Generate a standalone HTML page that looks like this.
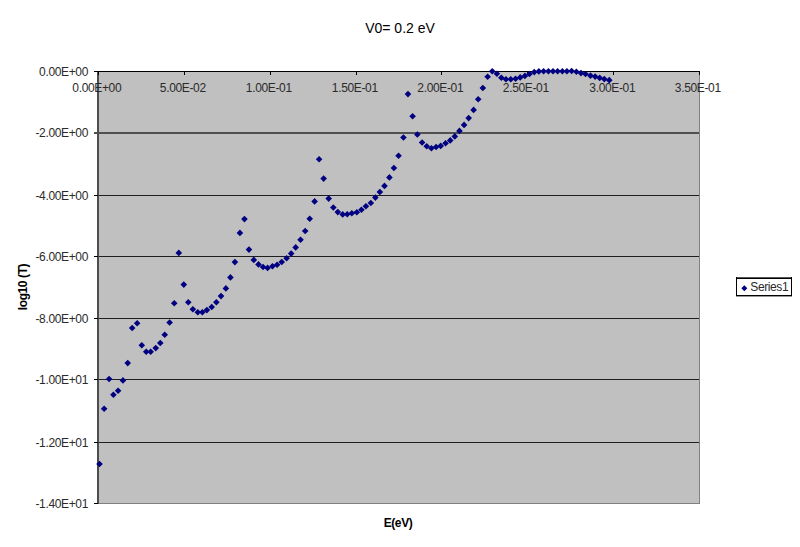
<!DOCTYPE html>
<html><head><meta charset="utf-8"><style>
html,body{margin:0;padding:0;background:#fff;width:800px;height:547px;overflow:hidden}
svg{display:block}
text{font-family:"Liberation Sans",sans-serif;fill:#000}
.lab{font-size:12px;letter-spacing:-0.35px;fill:#2a2a2a}
.xl{letter-spacing:-0.35px}
.leg{font-size:12px;letter-spacing:-0.4px;fill:#2a2a2a}
.title{font-size:14px}
.axt{font-size:12px;font-weight:bold;letter-spacing:-0.4px}
</style></head><body>
<svg width="800" height="547" viewBox="0 0 800 547">
<rect x="99" y="72" width="600" height="431" fill="#c0c0c0"/>
<rect x="99" y="132" width="600" height="2" fill="#505050"/>
<rect x="99" y="195" width="600" height="1" fill="#1e1e1e"/>
<rect x="99" y="256" width="600" height="1" fill="#1e1e1e"/>
<rect x="99" y="318" width="600" height="1" fill="#1e1e1e"/>
<rect x="99" y="379" width="600" height="1" fill="#1e1e1e"/>
<rect x="99" y="442" width="600" height="1" fill="#1e1e1e"/>
<rect x="699" y="71" width="1" height="433" fill="#808080"/>
<rect x="98" y="503" width="602" height="1" fill="#808080"/>
<rect x="97" y="71" width="2" height="433" fill="#4d4d4d"/>
<rect x="94" y="71" width="606" height="1" fill="#000"/>
<rect x="94" y="71" width="4" height="1" fill="#000"/>
<rect x="94" y="132" width="4" height="2" fill="#505050"/>
<rect x="94" y="195" width="4" height="1" fill="#000"/>
<rect x="94" y="256" width="4" height="1" fill="#000"/>
<rect x="94" y="318" width="4" height="1" fill="#000"/>
<rect x="94" y="379" width="4" height="1" fill="#000"/>
<rect x="94" y="442" width="4" height="1" fill="#000"/>
<rect x="94" y="503" width="4" height="1" fill="#000"/>
<rect x="98" y="71" width="1" height="4" fill="#000"/>
<rect x="184" y="71" width="1" height="4" fill="#000"/>
<rect x="270" y="71" width="1" height="4" fill="#000"/>
<rect x="356" y="71" width="1" height="4" fill="#000"/>
<rect x="441" y="71" width="1" height="4" fill="#000"/>
<rect x="527" y="71" width="1" height="4" fill="#000"/>
<rect x="613" y="71" width="1" height="4" fill="#000"/>
<rect x="699" y="71" width="1" height="4" fill="#000"/>
<text x="88" y="75.8" text-anchor="end" class="lab">0.00E+00</text>
<text x="88" y="136.8" text-anchor="end" class="lab">-2.00E+00</text>
<text x="88" y="199.8" text-anchor="end" class="lab">-4.00E+00</text>
<text x="88" y="260.8" text-anchor="end" class="lab">-6.00E+00</text>
<text x="88" y="322.8" text-anchor="end" class="lab">-8.00E+00</text>
<text x="88" y="383.8" text-anchor="end" class="lab">-1.00E+01</text>
<text x="88" y="446.8" text-anchor="end" class="lab">-1.20E+01</text>
<text x="88" y="507.8" text-anchor="end" class="lab">-1.40E+01</text>
<text x="96.8" y="92" text-anchor="middle" class="lab xl">0.00E+00</text>
<text x="182.8" y="92" text-anchor="middle" class="lab xl">5.00E-02</text>
<text x="268.8" y="92" text-anchor="middle" class="lab xl">1.00E-01</text>
<text x="354.8" y="92" text-anchor="middle" class="lab xl">1.50E-01</text>
<text x="440.3" y="92" text-anchor="middle" class="lab xl">2.00E-01</text>
<text x="525.8" y="92" text-anchor="middle" class="lab xl">2.50E-01</text>
<text x="612.3" y="92" text-anchor="middle" class="lab xl">3.00E-01</text>
<text x="697.8" y="92" text-anchor="middle" class="lab xl">3.50E-01</text>
<text x="400" y="32.6" text-anchor="middle" class="title">V0= 0.2 eV</text>
<text x="398" y="527" text-anchor="middle" class="axt">E(eV)</text>
<text transform="translate(27.3 287) rotate(-90)" text-anchor="middle" class="axt">log10 (T)</text>
<rect x="736" y="277" width="56" height="20" fill="#999"/><rect x="736" y="277" width="56" height="19" fill="#000"/><rect x="737" y="277" width="54" height="1" fill="#555"/><rect x="737" y="279" width="54" height="16" fill="#fff"/>
<path d="M744.3 285.2L747.3 288.2L744.3 291.2L741.3 288.2Z" fill="#000080"/>
<text x="750.3" y="291.4" class="leg">Series1</text>
<g fill="#000080"><path d="M99.50 460.70L102.80 464.00L99.50 467.30L96.20 464.00Z"/><path d="M104.14 405.50L107.44 408.80L104.14 412.10L100.84 408.80Z"/><path d="M109.08 375.70L112.38 379.00L109.08 382.30L105.78 379.00Z"/><path d="M113.41 391.40L116.71 394.70L113.41 398.00L110.11 394.70Z"/><path d="M118.10 387.40L121.40 390.70L118.10 394.00L114.80 390.70Z"/><path d="M122.94 377.10L126.24 380.40L122.94 383.70L119.64 380.40Z"/><path d="M127.73 359.80L131.03 363.10L127.73 366.40L124.43 363.10Z"/><path d="M132.17 324.70L135.47 328.00L132.17 331.30L128.87 328.00Z"/><path d="M137.16 319.90L140.46 323.20L137.16 326.50L133.86 323.20Z"/><path d="M141.79 341.90L145.09 345.20L141.79 348.50L138.49 345.20Z"/><path d="M146.23 348.40L149.53 351.70L146.23 355.00L142.93 351.70Z"/><path d="M150.67 348.40L153.97 351.70L150.67 355.00L147.37 351.70Z"/><path d="M155.76 344.80L159.06 348.10L155.76 351.40L152.46 348.10Z"/><path d="M160.30 339.70L163.60 343.00L160.30 346.30L157.00 343.00Z"/><path d="M164.74 331.40L168.04 334.70L164.74 338.00L161.44 334.70Z"/><path d="M169.62 319.20L172.92 322.50L169.62 325.80L166.32 322.50Z"/><path d="M174.26 299.90L177.56 303.20L174.26 306.50L170.96 303.20Z"/><path d="M178.80 249.60L182.10 252.90L178.80 256.20L175.50 252.90Z"/><path d="M183.79 281.30L187.09 284.60L183.79 287.90L180.49 284.60Z"/><path d="M188.28 299.00L191.58 302.30L188.28 305.60L184.98 302.30Z"/><path d="M192.87 306.00L196.17 309.30L192.87 312.60L189.57 309.30Z"/><path d="M197.80 309.00L201.10 312.30L197.80 315.60L194.50 312.30Z"/><path d="M202.34 309.00L205.64 312.30L202.34 315.60L199.04 312.30Z"/><path d="M206.88 306.80L210.18 310.10L206.88 313.40L203.58 310.10Z"/><path d="M211.72 303.70L215.02 307.00L211.72 310.30L208.42 307.00Z"/><path d="M216.36 298.90L219.66 302.20L216.36 305.50L213.06 302.20Z"/><path d="M221.00 292.80L224.30 296.10L221.00 299.40L217.70 296.10Z"/><path d="M225.88 285.10L229.18 288.40L225.88 291.70L222.58 288.40Z"/><path d="M230.42 274.10L233.72 277.40L230.42 280.70L227.12 277.40Z"/><path d="M234.91 258.80L238.21 262.10L234.91 265.40L231.61 262.10Z"/><path d="M239.90 229.60L243.20 232.90L239.90 236.20L236.60 232.90Z"/><path d="M244.44 215.80L247.74 219.10L244.44 222.40L241.14 219.10Z"/><path d="M248.98 246.30L252.28 249.60L248.98 252.90L245.68 249.60Z"/><path d="M253.81 256.60L257.11 259.90L253.81 263.20L250.51 259.90Z"/><path d="M258.50 261.10L261.80 264.40L258.50 267.70L255.20 264.40Z"/><path d="M263.04 263.70L266.34 267.00L263.04 270.30L259.74 267.00Z"/><path d="M267.58 264.60L270.88 267.90L267.58 271.20L264.28 267.90Z"/><path d="M272.47 263.00L275.77 266.30L272.47 269.60L269.17 266.30Z"/><path d="M277.11 261.50L280.41 264.80L277.11 268.10L273.81 264.80Z"/><path d="M281.74 258.70L285.04 262.00L281.74 265.30L278.44 262.00Z"/><path d="M286.63 254.90L289.93 258.20L286.63 261.50L283.33 258.20Z"/><path d="M291.17 250.30L294.47 253.60L291.17 256.90L287.87 253.60Z"/><path d="M295.66 244.10L298.96 247.40L295.66 250.70L292.36 247.40Z"/><path d="M300.55 236.40L303.85 239.70L300.55 243.00L297.25 239.70Z"/><path d="M305.19 227.70L308.49 231.00L305.19 234.30L301.89 231.00Z"/><path d="M309.72 215.50L313.02 218.80L309.72 222.10L306.42 218.80Z"/><path d="M314.61 198.10L317.91 201.40L314.61 204.70L311.31 201.40Z"/><path d="M319.10 155.90L322.40 159.20L319.10 162.50L315.80 159.20Z"/><path d="M323.64 175.30L326.94 178.60L323.64 181.90L320.34 178.60Z"/><path d="M328.68 195.30L331.98 198.60L328.68 201.90L325.38 198.60Z"/><path d="M333.32 204.20L336.62 207.50L333.32 210.80L330.02 207.50Z"/><path d="M337.80 208.80L341.10 212.10L337.80 215.40L334.50 212.10Z"/><path d="M342.69 211.10L345.99 214.40L342.69 217.70L339.39 214.40Z"/><path d="M347.23 210.90L350.53 214.20L347.23 217.50L343.93 214.20Z"/><path d="M351.82 209.90L355.12 213.20L351.82 216.50L348.52 213.20Z"/><path d="M356.81 208.90L360.11 212.20L356.81 215.50L353.51 212.20Z"/><path d="M361.44 206.40L364.74 209.70L361.44 213.00L358.14 209.70Z"/><path d="M365.93 203.00L369.23 206.30L365.93 209.60L362.63 206.30Z"/><path d="M370.82 199.70L374.12 203.00L370.82 206.30L367.52 203.00Z"/><path d="M375.36 194.30L378.66 197.60L375.36 200.90L372.06 197.60Z"/><path d="M379.85 188.70L383.15 192.00L379.85 195.30L376.55 192.00Z"/><path d="M384.49 182.60L387.79 185.90L384.49 189.20L381.19 185.90Z"/><path d="M389.42 174.10L392.72 177.40L389.42 180.70L386.12 177.40Z"/><path d="M393.91 164.70L397.21 168.00L393.91 171.30L390.61 168.00Z"/><path d="M398.55 152.40L401.85 155.70L398.55 159.00L395.25 155.70Z"/><path d="M403.44 134.20L406.74 137.50L403.44 140.80L400.14 137.50Z"/><path d="M407.98 90.80L411.28 94.10L407.98 97.40L404.68 94.10Z"/><path d="M412.62 113.00L415.92 116.30L412.62 119.60L409.32 116.30Z"/><path d="M417.35 131.20L420.65 134.50L417.35 137.80L414.05 134.50Z"/><path d="M422.09 139.20L425.39 142.50L422.09 145.80L418.79 142.50Z"/><path d="M426.73 142.90L430.03 146.20L426.73 149.50L423.43 146.20Z"/><path d="M431.42 144.90L434.72 148.20L431.42 151.50L428.12 148.20Z"/><path d="M436.11 143.70L439.41 147.00L436.11 150.30L432.81 147.00Z"/><path d="M440.70 142.60L444.00 145.90L440.70 149.20L437.40 145.90Z"/><path d="M445.58 139.90L448.88 143.20L445.58 146.50L442.28 143.20Z"/><path d="M450.22 137.10L453.52 140.40L450.22 143.70L446.92 140.40Z"/><path d="M454.81 133.10L458.11 136.40L454.81 139.70L451.51 136.40Z"/><path d="M459.45 127.60L462.75 130.90L459.45 134.20L456.15 130.90Z"/><path d="M464.09 121.60L467.39 124.90L464.09 128.20L460.79 124.90Z"/><path d="M468.68 114.80L471.98 118.10L468.68 121.40L465.38 118.10Z"/><path d="M473.61 106.60L476.91 109.90L473.61 113.20L470.31 109.90Z"/><path d="M478.20 96.00L481.50 99.30L478.20 102.60L474.90 99.30Z"/><path d="M482.84 84.70L486.14 88.00L482.84 91.30L479.54 88.00Z"/><path d="M487.63 73.50L490.93 76.80L487.63 80.10L484.33 76.80Z"/><path d="M492.27 68.00L495.57 71.30L492.27 74.60L488.97 71.30Z"/><path d="M496.91 70.40L500.21 73.70L496.91 77.00L493.61 73.70Z"/><path d="M501.34 74.40L504.64 77.70L501.34 81.00L498.04 77.70Z"/><path d="M505.98 75.90L509.28 79.20L505.98 82.50L502.68 79.20Z"/><path d="M510.77 75.90L514.07 79.20L510.77 82.50L507.47 79.20Z"/><path d="M515.56 75.50L518.86 78.80L515.56 82.10L512.26 78.80Z"/><path d="M520.20 74.10L523.50 77.40L520.20 80.70L516.90 77.40Z"/><path d="M524.89 72.60L528.19 75.90L524.89 79.20L521.59 75.90Z"/><path d="M529.47 70.70L532.77 74.00L529.47 77.30L526.17 74.00Z"/><path d="M534.26 68.80L537.56 72.10L534.26 75.40L530.96 72.10Z"/><path d="M538.85 68.10L542.15 71.40L538.85 74.70L535.55 71.40Z"/><path d="M543.59 67.90L546.89 71.20L543.59 74.50L540.29 71.20Z"/><path d="M548.43 67.90L551.73 71.20L548.43 74.50L545.13 71.20Z"/><path d="M553.02 67.90L556.32 71.20L553.02 74.50L549.72 71.20Z"/><path d="M557.60 67.90L560.90 71.20L557.60 74.50L554.30 71.20Z"/><path d="M562.39 67.90L565.69 71.20L562.39 74.50L559.09 71.20Z"/><path d="M566.93 67.90L570.23 71.20L566.93 74.50L563.63 71.20Z"/><path d="M571.62 67.70L574.92 71.00L571.62 74.30L568.32 71.00Z"/><path d="M576.38 68.45L579.68 71.75L576.38 75.05L573.08 71.75Z"/><path d="M580.97 69.80L584.27 73.10L580.97 76.40L577.67 73.10Z"/><path d="M585.56 70.70L588.86 74.00L585.56 77.30L582.26 74.00Z"/><path d="M590.47 72.35L593.77 75.65L590.47 78.95L587.17 75.65Z"/><path d="M595.11 73.30L598.41 76.60L595.11 79.90L591.81 76.60Z"/><path d="M599.70 74.60L603.00 77.90L599.70 81.20L596.40 77.90Z"/><path d="M604.29 75.80L607.59 79.10L604.29 82.40L600.99 79.10Z"/><path d="M609.25 76.85L612.55 80.15L609.25 83.45L605.95 80.15Z"/></g>
</svg>
</body></html>
